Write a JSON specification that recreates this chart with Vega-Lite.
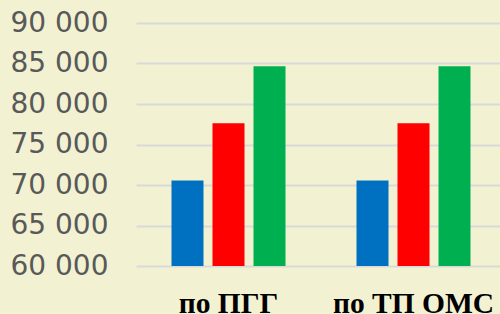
{
  "$schema": "https://vega.github.io/schema/vega-lite/v6.json",
  "autosize": {"type": "none"},
  "padding": {"left": 136, "top": 23, "right": 0, "bottom": 48},
  "width": 364,
  "height": 243,
  "background": "#F2F2D2",
  "config": {"view": {"stroke": null}},
  "data": {
    "values": [
      {"group": "по ПГГ", "series": "s1", "value": 70550},
      {"group": "по ПГГ", "series": "s2", "value": 77630},
      {"group": "по ПГГ", "series": "s3", "value": 84660},
      {"group": "по ТП ОМС", "series": "s1", "value": 70550},
      {"group": "по ТП ОМС", "series": "s2", "value": 77630},
      {"group": "по ТП ОМС", "series": "s3", "value": 84660}
    ]
  },
  "mark": {"type": "bar", "clip": true},
  "encoding": {
    "x": {
      "field": "group",
      "type": "nominal",
      "sort": null,
      "title": null,
      "scale": {"range": [0, 370], "paddingInner": 0, "paddingOuter": 0},
      "axis": {
        "labelAngle": 0,
        "domain": false,
        "ticks": false,
        "tickSize": 0,
        "labelPadding": 46,
        "labelBaseline": "alphabetic",
        "labelFont": "Liberation Serif",
        "labelFontWeight": "bold",
        "labelFontSize": 29.5,
        "labelColor": "#000000",
        "grid": false
      }
    },
    "xOffset": {
      "field": "series",
      "type": "nominal",
      "scale": {"paddingInner": 0.2195, "paddingOuter": 0.866}
    },
    "y": {
      "field": "value",
      "type": "quantitative",
      "title": null,
      "scale": {"domain": [60000, 90000], "nice": false, "zero": false},
      "axis": {
        "values": [60000, 65000, 70000, 75000, 80000, 85000, 90000],
        "labelExpr": "replace(format(datum.value, ','), ',', ' ')",
        "domain": false,
        "ticks": false,
        "tickSize": 0,
        "labelPadding": 28,
        "labelFont": "DejaVu Sans",
        "labelFontSize": 28,
        "labelColor": "#595959",
        "grid": true,
        "gridColor": "#D9D9D9",
        "gridWidth": 2
      }
    },
    "color": {
      "field": "series",
      "type": "nominal",
      "legend": null,
      "scale": {"domain": ["s1", "s2", "s3"], "range": ["#0070C0", "#FF0000", "#00B050"]}
    }
  }
}
